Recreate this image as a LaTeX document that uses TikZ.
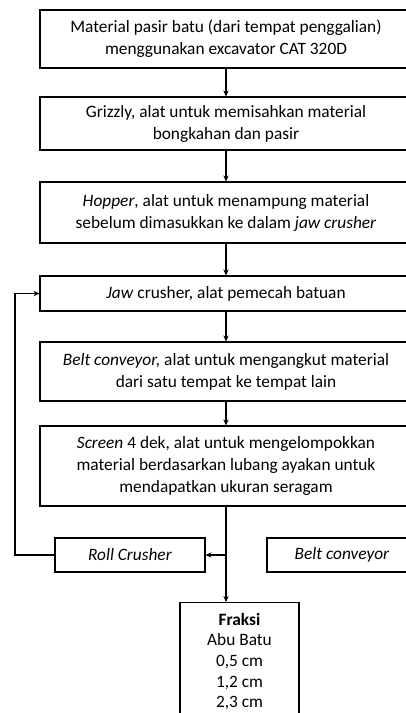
\documentclass[tikz,border=0pt]{standalone}
\usepackage{fontspec}
\setmainfont{Carlito}
\usetikzlibrary{arrows.meta,positioning}

\tikzset{
  prosesbox/.style={draw, line width=0.8pt, minimum width=279pt, align=center,
    font=\fontsize{13}{16.5}\selectfont, inner sep=0pt},
  kecilbox/.style={draw, line width=0.8pt, minimum width=112.5pt, minimum height=25.5pt,
    inner sep=0pt, font=\fontsize{13}{16.5}\selectfont},
  panah/.style={line width=0.8pt, -{Stealth[length=4.5pt,width=4pt]}}
}

\begin{document}
\begin{tikzpicture}[x=0.75pt, y=-0.75pt]
\clip (0,0) rectangle (406,713);

\node[prosesbox, minimum height=43.5pt] (Galian) at (226,39) {Material pasir batu (dari tempat penggalian)\\menggunakan excavator CAT 320D};
\node[prosesbox, minimum height=39.75pt] (Grizzly) at (226,123.5) {Grizzly, alat untuk memisahkan material\\bongkahan dan pasir};
\node[prosesbox, minimum height=45.75pt] (Hopper) at (226,212.5) {\textit{Hopper}, alat untuk menampung material\\sebelum dimasukkan ke dalam \textit{jaw crusher}};
\node[prosesbox, minimum height=26.25pt] (Jaw) at (226,293.5) {\textit{Jaw} crusher, alat pemecah batuan};
\node[prosesbox, minimum height=44.25pt] (Belt) at (226,371.5) {\textit{Belt conveyor,} alat untuk mengangkut material\\dari satu tempat ke tempat lain};
\node[prosesbox, minimum height=60pt] (Screen) at (226,466) {\textit{Screen} 4 dek, alat untuk mengelompokkan\\material berdasarkan lubang ayakan untuk\\mendapatkan ukuran seragam};

\node[kecilbox] (Roll) at (130,555) {\textit{Roll Crusher}};
\node[kecilbox] (BeltB) at (342,555) {\textit{Belt conveyor}};
\node[draw, line width=0.8pt, minimum width=89.25pt, minimum height=87pt, anchor=north,
  align=center, font=\fontsize{13}{15.5}\selectfont, inner sep=0pt, text depth=0pt] (Fraksi) at (239.5,602)
  {\textbf{Fraksi}\\Abu Batu\\0,5 cm\\1,2 cm\\2,3 cm};

\coordinate (cabang) at (226,555);
\coordinate (balik) at (15,555);

\draw[panah] (Galian) -- (Grizzly);
\draw[panah] (Grizzly) -- (Hopper);
\draw[panah] (Hopper) -- (Jaw);
\draw[panah] (Jaw) -- (Belt);
\draw[panah] (Belt) -- (Screen);
\draw[panah] (Screen.south) -- (Screen.south |- Fraksi.north);
\draw[panah] (cabang) -- (Roll.east);
\draw[panah] (Roll.west) -- (balik) |- (Jaw.west);

\end{tikzpicture}
\end{document}
